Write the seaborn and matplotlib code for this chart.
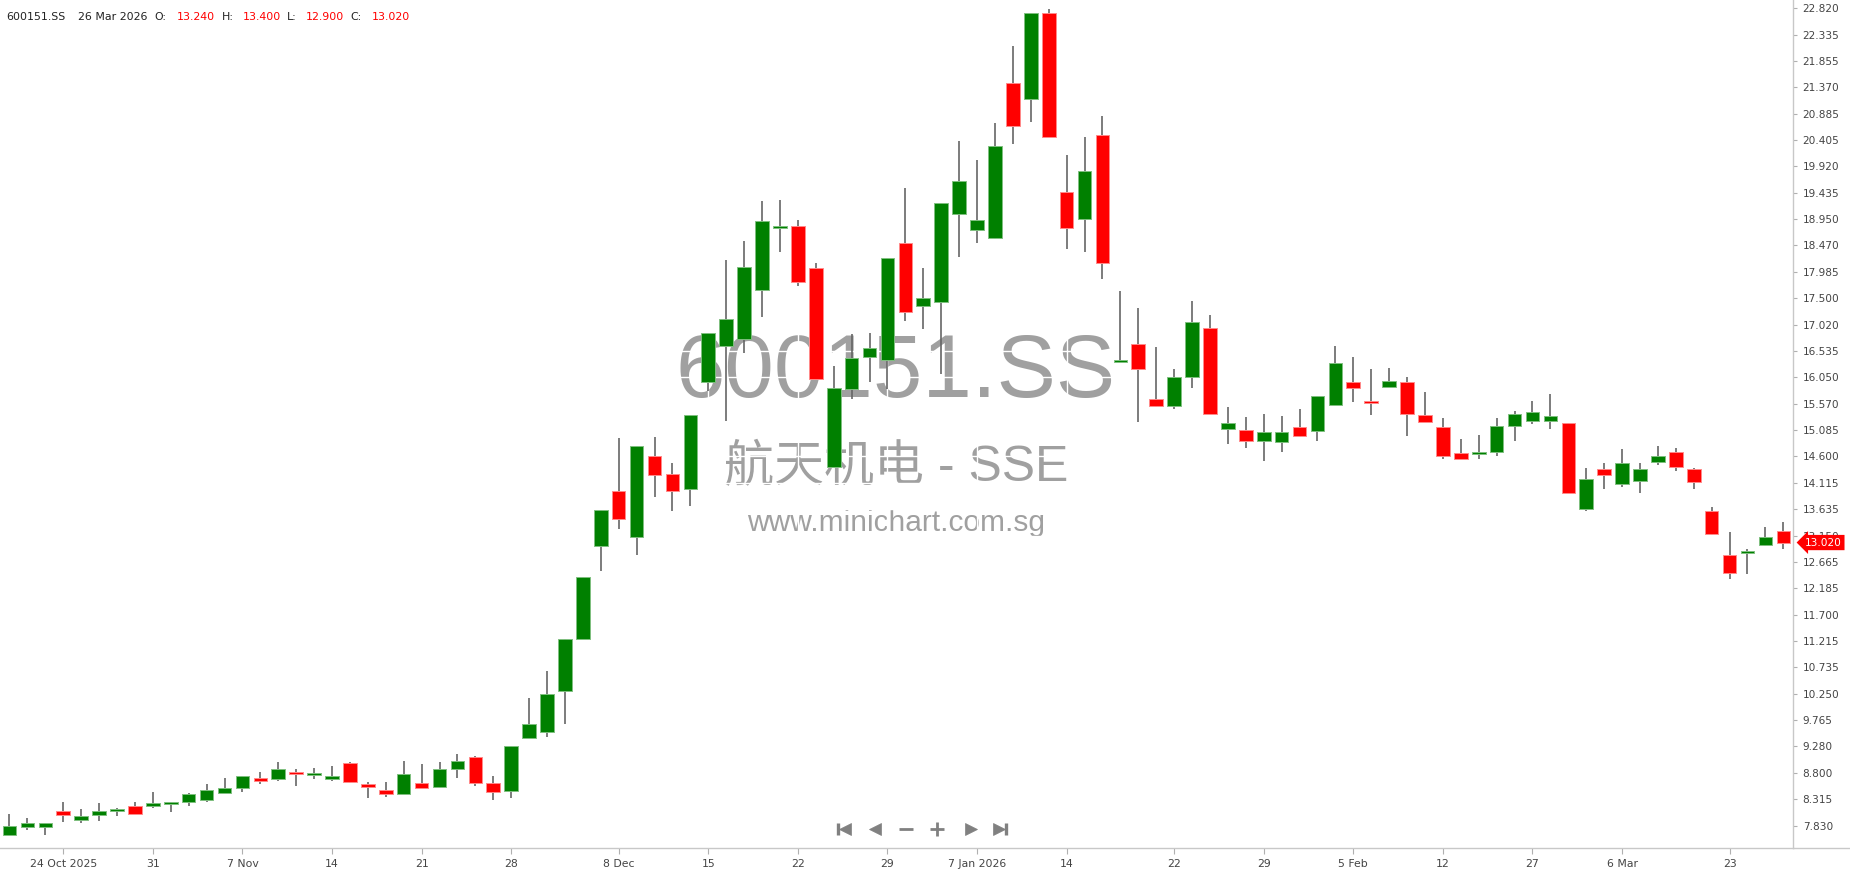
import numpy as np
import pandas as pd
import matplotlib
matplotlib.use("Agg")
import matplotlib.pyplot as plt
import seaborn as sns
from matplotlib.lines import Line2D

# daily OHLC, 600151.SS
dates = [
    "2025-10-21", "2025-10-22", "2025-10-23", "2025-10-24", "2025-10-27", "2025-10-28", "2025-10-29",
    "2025-10-30", "2025-10-31", "2025-11-03", "2025-11-04", "2025-11-05", "2025-11-06", "2025-11-07",
    "2025-11-10", "2025-11-11", "2025-11-12", "2025-11-13", "2025-11-14", "2025-11-17", "2025-11-18",
    "2025-11-19", "2025-11-20", "2025-11-21", "2025-11-24", "2025-11-25", "2025-11-26", "2025-11-27",
    "2025-11-28", "2025-12-01", "2025-12-02", "2025-12-03", "2025-12-04", "2025-12-05", "2025-12-08",
    "2025-12-09", "2025-12-10", "2025-12-11", "2025-12-12", "2025-12-15", "2025-12-16", "2025-12-17",
    "2025-12-18", "2025-12-19", "2025-12-22", "2025-12-23", "2025-12-24", "2025-12-25", "2025-12-26",
    "2025-12-29", "2025-12-30", "2025-12-31", "2026-01-05", "2026-01-06", "2026-01-07", "2026-01-08",
    "2026-01-09", "2026-01-12", "2026-01-13", "2026-01-14", "2026-01-15", "2026-01-16", "2026-01-19",
    "2026-01-20", "2026-01-21", "2026-01-22", "2026-01-23", "2026-01-26", "2026-01-27", "2026-01-28",
    "2026-01-29", "2026-01-30", "2026-02-02", "2026-02-03", "2026-02-04", "2026-02-05", "2026-02-06",
    "2026-02-09", "2026-02-10", "2026-02-11", "2026-02-12", "2026-02-13", "2026-02-24", "2026-02-25",
    "2026-02-26", "2026-02-27", "2026-03-02", "2026-03-03", "2026-03-04", "2026-03-05", "2026-03-06",
    "2026-03-16", "2026-03-17", "2026-03-18", "2026-03-19", "2026-03-20", "2026-03-23", "2026-03-24",
    "2026-03-25", "2026-03-26",
]
opens = [
    7.65, 7.80, 7.80, 8.10, 7.94, 8.03, 8.10, 8.18, 8.19, 8.22,
    8.26, 8.29, 8.42, 8.52, 8.70, 8.68, 8.79, 8.75, 8.68, 8.98,
    8.59, 8.49, 8.40, 8.61, 8.54, 8.86, 9.09, 8.61, 8.47, 9.44,
    9.55, 10.29, 11.26, 12.96, 13.97, 13.13, 14.61, 14.27, 14.00, 15.97,
    16.63, 16.75, 17.66, 18.79, 18.82, 18.05, 14.41, 15.83, 16.43, 16.36,
    18.51, 17.36, 17.43, 19.04, 18.76, 18.60, 21.44, 21.15, 22.73, 19.44,
    18.95, 20.49, 16.34, 16.67, 15.66, 15.53, 16.05, 16.95, 15.11, 15.09,
    14.89, 14.86, 15.14, 15.07, 15.55, 15.96, 15.62, 15.88, 15.96, 15.35,
    15.14, 14.66, 14.64, 14.68, 15.16, 15.25, 15.25, 15.21, 13.63, 14.36,
    14.09, 14.15, 14.49, 14.68, 14.36, 13.60, 12.80, 12.83, 12.97, 13.24,
]
highs = [
    8.04, 7.96, 7.88, 8.26, 8.14, 8.24, 8.16, 8.26, 8.45, 8.26,
    8.43, 8.59, 8.70, 8.73, 8.82, 9.00, 8.86, 8.88, 8.93, 9.00,
    8.63, 8.63, 9.02, 8.95, 9.00, 9.14, 9.11, 8.74, 9.29, 10.16,
    10.67, 11.26, 12.39, 13.62, 14.93, 14.79, 14.95, 14.47, 15.36, 16.87,
    18.20, 18.55, 19.28, 19.30, 18.93, 18.14, 16.26, 16.84, 16.87, 18.23,
    19.53, 18.05, 19.24, 20.38, 20.03, 20.71, 22.12, 22.73, 22.80, 20.13,
    20.46, 20.84, 17.63, 17.33, 16.60, 16.21, 17.45, 17.20, 15.51, 15.33,
    15.37, 15.34, 15.46, 15.71, 16.62, 16.42, 16.21, 16.23, 16.05, 15.78,
    15.30, 14.91, 15.00, 15.30, 15.44, 15.62, 15.74, 15.22, 14.38, 14.47,
    14.73, 14.47, 14.79, 14.75, 14.38, 13.67, 13.21, 12.91, 13.30, 13.40,
]
lows = [
    7.64, 7.74, 7.66, 7.90, 7.87, 7.92, 8.01, 8.05, 8.15, 8.08,
    8.19, 8.26, 8.42, 8.45, 8.59, 8.65, 8.56, 8.68, 8.65, 8.61,
    8.33, 8.35, 8.40, 8.52, 8.52, 8.70, 8.56, 8.29, 8.33, 9.43,
    9.46, 9.70, 11.25, 12.50, 13.26, 12.80, 13.86, 13.60, 13.69, 15.80,
    15.24, 16.49, 17.16, 18.35, 17.73, 16.00, 14.40, 15.65, 15.97, 15.83,
    17.09, 16.93, 16.12, 18.25, 18.51, 18.58, 20.32, 20.73, 20.46, 18.41,
    18.34, 17.86, 16.33, 15.23, 15.51, 15.46, 15.85, 15.37, 14.82, 14.75,
    14.52, 14.68, 14.96, 14.89, 15.55, 15.60, 15.35, 15.87, 14.98, 15.23,
    14.56, 14.56, 14.55, 14.61, 14.89, 15.19, 15.11, 13.92, 13.60, 14.01,
    14.04, 13.92, 14.45, 14.34, 14.01, 13.16, 12.36, 12.44, 12.96, 12.90,
]
closes = [
    7.83, 7.88, 7.88, 8.03, 8.01, 8.10, 8.13, 8.05, 8.24, 8.26,
    8.40, 8.49, 8.52, 8.73, 8.65, 8.86, 8.77, 8.77, 8.74, 8.63,
    8.54, 8.40, 8.77, 8.52, 8.86, 9.02, 8.61, 8.45, 9.29, 9.69,
    10.24, 11.26, 12.38, 13.62, 13.45, 14.79, 14.25, 13.97, 15.36, 16.87,
    17.12, 18.07, 18.92, 18.81, 17.79, 16.02, 15.85, 16.40, 16.58, 18.23,
    17.24, 17.50, 19.24, 19.65, 18.93, 20.29, 20.66, 22.73, 20.46, 18.78,
    19.83, 18.14, 16.35, 16.20, 15.53, 16.05, 17.06, 15.37, 15.21, 14.89,
    15.04, 15.04, 14.98, 15.71, 16.32, 15.85, 15.58, 15.98, 15.37, 15.23,
    14.61, 14.56, 14.68, 15.16, 15.37, 15.41, 15.34, 13.92, 14.18, 14.25,
    14.47, 14.37, 14.61, 14.40, 14.13, 13.17, 12.47, 12.86, 13.12, 13.02,
]

tick_dates = ["2025-10-24", "2025-10-31", "2025-11-07", "2025-11-14", "2025-11-21", "2025-11-28",
              "2025-12-08", "2025-12-15", "2025-12-22", "2025-12-29", "2026-01-07", "2026-01-14",
              "2026-01-22", "2026-01-29", "2026-02-05", "2026-02-12", "2026-02-27", "2026-03-06",
              "2026-03-23"]
tick_labels = ["24 Oct 2025", "31", "7 Nov", "14", "21", "28", "8 Dec", "15", "22", "29",
               "7 Jan 2026", "14", "22", "29", "5 Feb", "12", "27", "6 Mar", "23"]

price_labels = ["7.830", "8.315", "8.800", "9.280", "9.765", "10.250", "10.735", "11.215",
                "11.700", "12.185", "12.665", "13.150", "13.635", "14.115", "14.600", "15.085",
                "15.570", "16.050", "16.535", "17.020", "17.500", "17.985", "18.470", "18.950",
                "19.435", "19.920", "20.405", "20.885", "21.370", "21.855", "22.335", "22.820"]

GREEN = "#008000"
RED = "#ff0000"

sns.set_style("white")
plt.rcParams["font.family"] = ["DejaVu Sans", "Noto Sans CJK SC"]

df = pd.DataFrame({"date": dates, "open": opens, "high": highs, "low": lows, "close": closes})
df["x"] = np.arange(len(df))
df["up"] = df["close"] >= df["open"]

W, H = 1850, 874
fig = plt.figure(figsize=(W / 100, H / 100), dpi=100)
ax = fig.add_axes([0, 1 - 848 / H, 1793 / W, 848 / H])

# watermark behind everything
ax.text(896 / W, 1 - 397 / H, "600151.SS", transform=fig.transFigure, ha="center",
        va="baseline", fontsize=64, color="#a0a0a0", family="Liberation Sans", zorder=0.1)
ax.text(896 / W, 1 - 481 / H, "航天机电 - SSE", transform=fig.transFigure, ha="center",
        va="baseline", fontsize=36, color="#a0a0a0",
        family=["Liberation Sans", "Noto Sans CJK SC"], zorder=0.1)
ax.text(896 / W, 1 - 531 / H, "www.minichart.com.sg", transform=fig.transFigure, ha="center",
        va="baseline", fontsize=21.5, color="#a0a0a0", family="Liberation Sans", zorder=0.1)

# candles
ax.vlines(df["x"], df["low"], df["high"], color="#666666", linewidth=1.2, zorder=2)
body_low = df[["open", "close"]].min(axis=1)
body_h = (df["close"] - df["open"]).abs().clip(lower=0.035)
ax.bar(df["x"], body_h, bottom=body_low, width=0.76,
       color=np.where(df["up"], GREEN, RED),
       edgecolor=np.where(df["up"], "#7fbf7f", "#ff8a8a"),
       linewidth=0.7, zorder=3)

ax.set_xlim(-0.53, len(df) - 1 + 0.54)
ax.set_ylim(7.418, 22.97)

# axes, ticks, white grid
ax.set_axisbelow(True)
ax.grid(True, color="white", linewidth=1)
ax.yaxis.tick_right()
ax.set_yticks(np.linspace(7.83, 22.82, len(price_labels)))
ax.set_yticklabels(price_labels)
ax.set_xticks([dates.index(d) for d in tick_dates])
ax.set_xticklabels(tick_labels)
ax.tick_params(axis="y", which="both", right=True, left=False, direction="out", length=3,
               width=0.8, color="#b0b0b0", labelsize=7.6, labelcolor="#444444", pad=4)
ax.tick_params(axis="x", which="both", bottom=True, direction="out", length=4, width=0.8,
               color="#b0b0b0", labelsize=7.8, labelcolor="#444444", pad=4)
for side in ["top", "left"]:
    ax.spines[side].set_visible(False)
for side in ["bottom", "right"]:
    ax.spines[side].set_color("#c8c8c8")
    ax.spines[side].set_linewidth(1)
fig.add_artist(Line2D([1793 / W, 1], [1 - 848 / H, 1 - 848 / H], transform=fig.transFigure,
                      color="#c8c8c8", linewidth=1))

# last price tag
ax.text(1 + 12 / 1793, df["close"].iloc[-1], f"{df['close'].iloc[-1]:.3f}",
        transform=ax.get_yaxis_transform(), ha="left", va="center", fontsize=7.6,
        color="white", clip_on=False, zorder=10,
        bbox=dict(boxstyle="larrow,pad=0.25", facecolor=RED, edgecolor="none"))

# header line
last = df.iloc[-1]
header = [
    (6.7, "600151.SS", "#222222"),
    (77.7, "26 Mar 2026", "#222222"),
    (154, "O:", "#222222"), (176.7, f"{last['open']:.3f}", RED),
    (221.7, "H:", "#222222"), (242.7, f"{last['high']:.3f}", RED),
    (287.3, "L:", "#222222"), (306, f"{last['low']:.3f}", RED),
    (350.7, "C:", "#222222"), (371.7, f"{last['close']:.3f}", RED),
]
for px, txt, col in header:
    fig.text(px / W, 1 - 17 / H, txt, ha="left", va="center", fontsize=7.9, color=col)

# navigation buttons
ny = 1 - 829 / H
nav = [(838, "|", 9, 2.4), (845, "<", 8.5, 0.5), (874.5, "<", 8.5, 0.5),
       (905.5, "_", 9.5, 2.0), (937.3, "+", 9.5, 2.0), (970.7, ">", 8.5, 0.5),
       (999, ">", 8.5, 0.5), (1006, "|", 9, 2.4)]
for px, m, ms, mew in nav:
    fig.add_artist(Line2D([px / W], [ny], transform=fig.transFigure, marker=m,
                          markersize=ms, markeredgewidth=mew, color="#808080",
                          markerfacecolor="#808080", markeredgecolor="#808080",
                          linestyle="none"))

fig.savefig("out.png", dpi=100)
